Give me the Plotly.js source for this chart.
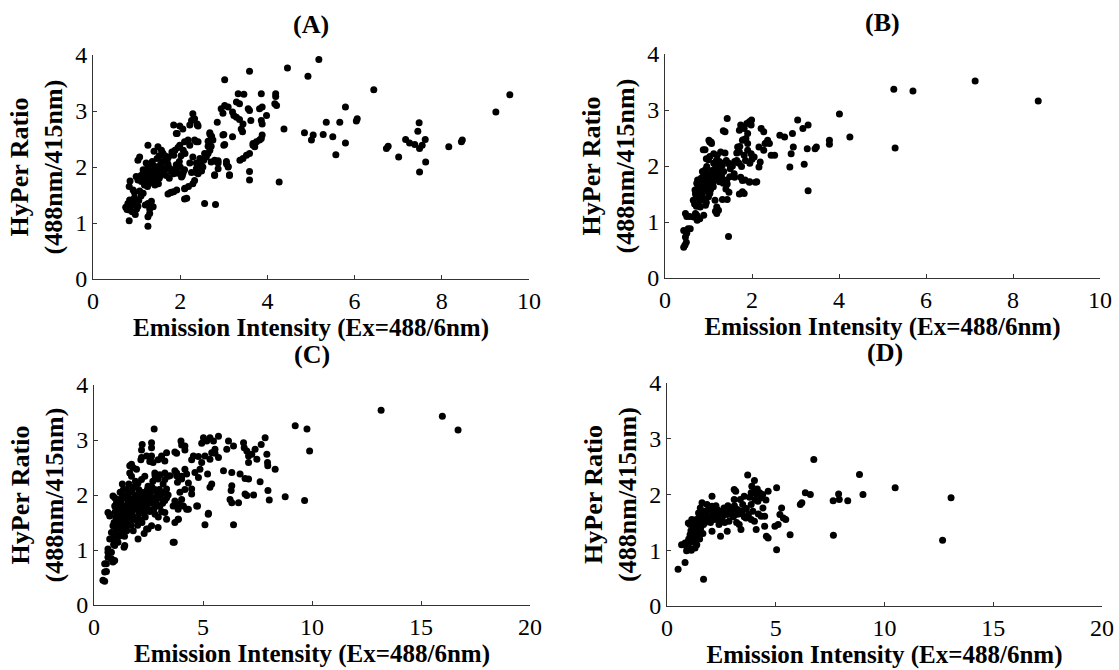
<!DOCTYPE html>
<html>
<head>
<meta charset="utf-8">
<script src="https://cdn.plot.ly/plotly-3.0.1.min.js"></script>
<style>html,body{margin:0;padding:0;background:#fff;}#chart{width:1119px;height:670px;}</style>
</head>
<body>
<div id="chart"></div>
<script>
// ---- Data (x = emission intensity, y = HyPer ratio) ----
const panelTitles = ["(A)", "(B)", "(C)", "(D)"];
const xTitle = "Emission Intensity (Ex=488/6nm)";
const yTitle = "HyPer Ratio<br>(488nm/415nm)";
const xTicksAB = [0, 2, 4, 6, 8, 10];
const xTicksCD = [0, 5, 10, 15, 20];
const yTicks = [0, 1, 2, 3, 4];

const pointsA = [
[0.75,1.28],[0.78,1.24],[0.83,1.23],[0.85,1.30],[0.88,1.32],[0.80,1.35],[0.92,1.36],[0.84,1.41],[0.95,1.45],[0.83,1.04],[0.90,1.20],[0.97,1.15],[1.00,1.25],[1.03,1.30],[0.83,1.65],[0.85,1.75],[0.92,1.59],[0.95,1.55],[1.07,1.57],[1.15,1.53],[1.10,1.48],[1.05,1.40],[1.26,1.35],[1.34,1.39],[1.38,1.29],[1.30,1.25],[1.26,1.11],[1.30,1.17],[1.26,0.94],[1.20,1.32],
[1.03,1.77],[1.11,1.74],[0.99,1.83],[1.07,2.18],[1.03,2.12],[1.26,2.39],[1.22,2.07],[1.26,2.01],[1.30,1.95],[1.34,1.89],[1.15,1.89],[1.19,1.83],[1.22,1.80],[1.15,1.95],[1.20,1.90],[1.25,1.85],[1.30,1.80],[1.35,1.82],[1.40,1.85],[1.45,1.88],[1.50,1.92],[1.28,1.70],[1.33,1.74],[1.38,1.78],[1.43,1.95],[1.48,2.00],[1.52,1.80],[1.55,1.85],[1.60,1.90],[1.20,1.75],[1.18,1.68],[1.25,1.65],[1.32,2.05],[1.36,2.10],[1.40,2.02],[1.45,1.75],[1.50,1.70],[1.55,2.05],[1.60,2.10],[1.65,1.95],[1.10,1.85],[1.12,1.78],[1.38,1.92],[1.42,1.68],[1.47,2.15],[1.52,2.20],[1.58,2.00],
[1.49,2.36],[1.57,2.30],[1.40,2.28],[1.60,2.25],[1.65,2.20],[1.70,2.12],[1.72,2.05],[1.75,1.98],[1.68,1.85],[1.75,1.80],[1.80,1.92],[1.85,1.88],[1.90,1.95],
[1.81,2.27],[1.85,2.21],[1.73,2.18],[1.91,2.04],[1.84,1.95],[1.95,1.89],[2.00,2.00],[2.05,1.85],[2.10,1.95],[1.98,2.10],[2.02,2.20],[1.88,2.30],[1.95,2.35],
[1.85,1.56],[1.92,1.59],[1.80,1.55],[1.72,1.52],[1.77,1.54],[2.15,1.44],[2.11,1.62],[2.19,1.65],[2.03,1.82],[2.29,1.70],[2.33,1.76],[2.41,1.88],[2.45,1.94],[2.37,1.97],[2.48,2.03],[2.52,2.00],[2.54,2.12],
[1.85,2.75],[1.93,2.60],[2.22,2.75],[2.39,2.75],[2.41,2.45],[2.22,2.39],[1.99,2.39],[2.07,2.30],[2.11,2.24],[2.29,2.18],[2.45,2.15],[2.37,2.07],[2.26,1.90],[2.37,1.90],[2.49,1.93],[2.22,2.07],[2.07,1.90],
[2.29,2.95],[2.33,2.86],[2.39,2.77],[2.41,2.73],[2.26,2.83],[2.06,2.68],[1.99,2.73],[1.91,2.60],[2.18,2.48],[2.10,2.45],[2.33,2.48],[2.37,2.45],[2.10,1.43],[2.10,1.61],
[2.68,2.59],[2.72,2.55],[2.64,2.46],[2.64,2.37],[2.56,2.24],[2.60,2.18],[2.68,2.61],[2.71,2.54],[2.75,2.48],[2.71,2.37],[2.68,2.30],[2.64,2.24],[2.58,2.18],[2.56,1.35],[2.81,1.33],
[2.83,2.10],[2.87,2.07],[3.06,2.10],[3.10,2.01],[2.79,1.86],[3.13,1.86],[2.71,2.09],[2.79,2.12],[2.87,2.11],[2.87,1.97],[2.79,1.85],[3.06,2.06],[3.10,2.00],[3.13,1.85],
[3.00,2.58],[3.00,2.39],[2.98,2.57],[3.20,2.54],[3.02,2.40],[2.85,2.80],[2.98,2.96],[3.02,3.10],[3.10,3.07],[2.94,3.04],[3.02,3.56],
[3.33,3.31],[3.46,3.30],[3.29,3.16],[3.36,3.13],[3.56,3.04],[3.59,3.01],[3.20,2.98],[3.23,2.92],[3.29,2.89],[3.36,2.85],[3.44,2.77],[3.40,2.68],[3.43,2.63],[3.62,2.83],[3.59,3.71],
[3.37,2.12],[3.44,2.15],[3.52,2.21],[3.59,2.24],[3.59,1.92],[3.59,1.77],[3.67,2.39],[3.75,2.45],[3.86,2.51],[3.88,2.57],[3.82,2.48],[3.67,2.42],[3.71,2.36],[3.86,3.31],[3.88,3.07],[3.82,3.04],[3.98,2.92],[3.86,2.83],[3.88,2.77],
[4.19,3.31],[4.19,3.26],[4.21,3.10],[4.17,3.13],[4.27,1.73],[4.38,2.68],[4.46,3.77],[4.85,2.61],[4.93,3.62],[5.01,2.48],[5.05,2.57],[5.18,3.92],[5.28,2.58],[5.35,2.80],[5.50,2.54],[5.57,2.22],[5.66,2.80],[5.79,3.07],[5.79,2.43],[6.04,2.82],[6.06,2.86],[6.44,3.38],[6.73,2.33],[6.77,2.37],[7.01,2.18],[7.17,2.49],[7.26,2.43],[7.38,2.40],[7.45,2.64],[7.48,2.79],[7.49,2.33],[7.55,2.39],[7.62,2.49],[7.63,2.09],[7.49,1.91],[8.16,2.36],[8.45,2.45],[8.47,2.48],[9.24,2.98],[9.56,3.29]
];

const pointsB = [
[0.43,0.55],[0.46,0.59],[0.49,0.64],[0.47,0.73],[0.50,0.80],[0.53,0.88],[0.43,0.85],[0.58,0.88],[0.47,1.15],[0.50,1.10],[0.57,1.10],[0.66,1.09],[0.74,1.03],[0.70,1.15],[0.73,1.12],[0.80,1.06],[0.89,1.12],[0.93,1.30],[0.81,1.27],
[0.65,1.39],[0.73,1.45],[0.69,1.57],[0.73,1.69],[0.80,1.75],[0.88,1.81],[0.92,1.93],[0.96,1.99],[1.00,2.11],[1.03,2.17],[0.92,2.29],[1.03,2.43],[1.07,2.40],[0.96,1.57],[1.03,1.51],[1.11,1.63],[1.15,1.39],[1.23,1.21],[1.19,1.27],[1.16,1.19],[1.19,1.15],
[0.70,1.50],[0.75,1.60],[0.78,1.55],[0.82,1.62],[0.85,1.70],[0.88,1.65],[0.90,1.55],[0.92,1.72],[0.95,1.78],[0.98,1.68],[1.00,1.75],[1.02,1.85],[1.05,1.80],[1.08,1.92],[1.10,1.70],[1.12,1.85],[1.15,1.95],[1.18,1.78],[1.20,1.88],[1.22,2.00],[1.25,1.72],[1.28,1.92],[1.30,1.82],[1.32,2.02],[1.35,1.90],[0.78,1.45],[0.85,1.48],[0.90,1.85],[0.95,1.62],[1.00,1.45],[1.05,1.58],[0.83,1.78],[0.75,1.75],[0.86,1.90],[0.97,1.88],[1.08,1.65],[1.12,2.05],[1.18,2.10],[1.25,2.08],[0.68,1.32],[0.72,1.28],[0.80,1.38],[0.88,1.40],[0.95,1.35],
[1.34,1.69],[1.42,1.75],[1.49,1.81],[1.30,2.05],[1.38,2.23],[1.46,2.05],[1.38,2.61],[1.43,2.85],[1.46,0.74],[1.36,1.74],[1.43,1.68],[1.40,1.59],[1.47,1.53],[1.32,1.40],[1.43,1.40],[1.41,2.10],[1.47,2.04],[1.01,2.46],[1.06,2.43],[0.88,2.29],[0.95,2.13],[1.12,2.22],[1.20,2.19],[1.28,2.25],[1.34,2.63],
[1.50,1.95],[1.55,2.00],[1.60,2.08],[1.59,1.86],[1.60,1.80],[1.65,2.23],[1.72,2.35],[1.80,2.47],[1.76,2.70],[1.88,2.76],[1.99,2.82],[1.76,1.99],[1.84,1.75],[1.95,1.72],[2.11,1.72],[1.78,1.54],[1.82,1.51],[1.71,1.50],[1.78,1.74],[1.74,1.80],
[1.74,2.73],[1.71,2.64],[1.82,2.67],[1.90,2.58],[1.78,2.46],[1.86,2.49],[1.90,2.40],[1.67,2.34],[1.71,2.25],[1.82,2.19],[1.90,2.28],[1.98,2.22],[2.05,2.16],[1.94,2.79],[1.98,2.73],[1.65,2.10],[1.70,2.05],[1.85,2.10],[1.95,2.05],[2.00,2.12],
[2.21,2.67],[2.27,2.61],[2.36,2.46],[2.40,2.40],[2.16,2.34],[2.27,2.28],[2.16,1.98],[2.19,2.07],[2.08,1.71],[1.94,1.71],[2.30,2.40],[2.44,2.19],[2.52,2.19],[2.64,2.55],[2.75,2.52],[2.87,1.98],[2.90,2.22],[2.95,2.34],[2.93,2.58],[3.05,2.82],[3.17,2.67],[3.29,2.73],[3.27,2.31],[3.45,2.31],[3.48,2.34],[3.20,2.03],[3.29,1.56],[3.78,2.46],[3.78,2.39],[4.01,2.93],[4.25,2.52],[5.26,3.37],[5.29,2.32],[5.70,3.34],[7.13,3.52],[8.58,3.16]
];

const pointsC = [
[0.41,0.45],[0.49,0.43],[0.49,0.60],[0.57,0.61],[0.49,0.75],[0.57,0.75],[0.64,0.87],[0.80,0.84],[0.87,0.78],[0.95,0.81],[0.64,0.96],[0.64,1.02],[0.80,0.96],[0.72,1.20],[0.80,1.32],[0.87,1.44],[0.64,1.68],[0.72,1.62],[0.72,1.65],[0.95,1.80],[1.03,1.86],[1.10,1.92],[0.87,1.98],[0.95,1.95],[1.26,1.74],[1.41,1.80],[1.56,1.86],[1.72,1.92],[1.18,1.56],[1.33,1.62],[1.49,1.56],[1.64,1.50],[1.03,1.32],[1.18,1.38],[1.33,1.44],[0.95,1.08],[1.10,1.14],[1.41,1.08],[1.38,1.05],[1.53,1.44],[2.02,1.20],[2.41,1.38],[2.64,1.44],[2.94,1.41],[3.63,1.14],
[0.85,1.20],[0.90,1.10],[0.95,1.25],[1.00,1.40],[1.05,1.50],[1.10,1.60],[1.15,1.70],[1.20,1.80],[1.25,1.90],[1.30,2.00],[1.35,2.10],[1.40,1.95],[1.45,1.70],[1.50,1.65],[1.55,1.75],[1.60,1.95],[1.65,2.05],[1.70,1.80],[1.75,1.70],[1.80,1.60],[1.85,1.85],[1.90,2.00],[1.95,1.90],[2.00,1.75],[2.05,1.65],[2.10,1.85],[2.15,1.95],[2.20,2.05],[2.25,1.90],[2.30,1.70],[2.35,1.60],[2.40,2.00],[2.45,2.10],[2.50,1.95],[2.55,1.85],[2.60,2.05],[2.65,2.15],[2.70,1.95],[2.75,1.75],[2.80,1.65],[2.85,1.90],[2.90,2.00],[2.95,1.80],[3.00,2.10],[3.05,1.95],[3.10,1.70],[3.15,1.85],[3.20,2.05],[1.00,1.60],[1.10,1.75],[1.20,1.55],[1.30,1.35],[1.40,1.25],[1.50,1.35],[1.60,1.60],[1.70,1.45],[1.80,1.35],[1.90,1.55],[2.00,1.45],[2.10,1.55],[1.20,2.05],[1.30,2.20],[1.50,2.10],[1.60,2.20],[1.75,2.10],[1.90,2.25],[2.05,2.10],[2.20,1.50],[2.30,1.30],[1.15,1.25],[0.92,1.50],[0.98,1.70],[1.08,1.85],[1.25,1.45],[1.35,1.80],[1.45,1.50],[1.55,2.00],[1.65,1.65],[1.85,1.75],[2.00,1.95],[2.15,1.75],[2.35,1.85],[2.55,1.70],[2.70,2.25],[2.80,2.35],[2.95,1.60],[3.25,1.90],[3.40,2.00],
[1.87,2.16],[2.02,2.22],[2.18,2.28],[2.33,2.34],[1.64,2.40],[1.72,2.34],[2.18,2.82],[2.64,2.86],[2.21,2.92],[2.15,2.64],[2.56,2.61],[2.94,2.64],[3.10,2.67],[2.76,3.20],[2.64,2.95],[2.18,2.68],[2.41,2.71],[2.64,2.71],[2.71,2.59],[1.72,2.56],[1.64,2.53],[1.79,2.50],[1.95,2.47],
[2.79,2.40],[3.02,2.37],[3.25,2.40],[3.40,2.34],[3.25,2.28],[2.48,2.16],[2.79,2.10],[3.10,2.04],[3.33,1.95],[2.41,1.92],[2.71,1.86],[3.02,1.80],[2.02,1.98],[2.18,1.92],[2.33,1.80],[2.48,1.74],[2.18,1.68],[1.87,1.74],[2.94,2.29],[3.17,2.20],[3.33,2.11],[3.25,1.68],[3.33,1.56],[2.48,1.38],
[3.33,2.77],[3.10,2.71],[3.25,2.62],[3.48,2.35],[3.71,2.78],[3.71,2.44],[3.79,2.35],[3.79,2.76],[4.02,2.91],[4.17,2.82],[3.79,2.40],[4.02,2.34],[4.33,2.22],[4.17,2.10],[3.63,1.80],[3.86,1.74],[4.10,1.80],[3.86,1.56],[3.71,1.50],[4.71,1.80],[4.33,1.74],[3.68,1.14],
[3.99,2.98],[4.17,2.89],[4.17,2.47],[4.25,2.38],[3.83,2.23],[4.02,2.29],[4.48,2.11],[4.48,2.02],[3.94,2.05],[4.02,1.92],[4.25,1.74],[3.87,1.83],[3.71,1.89],[3.87,1.56],[4.56,2.71],[4.63,2.41],[4.79,2.32],[4.75,1.80],[4.48,2.64],[4.79,2.70],[4.94,2.94],
[5.02,3.04],[5.17,2.98],[5.32,3.04],[5.48,2.98],[5.71,3.07],[5.55,2.83],[5.40,2.77],[5.32,2.65],[5.71,2.68],[5.09,2.71],[4.94,2.59],[4.86,2.47],[5.21,2.38],[5.40,2.20],[5.32,2.14],[5.25,1.67],[5.09,1.46],[5.24,1.65],[5.55,2.76],
[5.94,2.44],[6.09,2.83],[6.17,2.98],[6.40,2.89],[6.32,2.41],[6.32,2.17],[6.29,2.08],[6.24,1.92],[6.32,1.86],[6.63,1.86],[6.40,1.46],[6.70,2.38],[6.86,2.95],[6.89,2.86],[7.01,2.80],[7.09,2.71],[6.93,2.30],[7.09,2.29],[7.32,2.00],[7.01,1.99],[6.93,2.02],[7.39,2.83],[7.47,2.65],[7.24,2.74],[7.09,2.59],[7.62,2.24],[7.67,2.92],[7.85,3.04],[7.93,2.74],[7.96,2.59],[7.97,2.53],[8.31,2.47],[8.04,1.91],[7.98,2.08],[8.77,1.97],[9.23,3.26],[9.66,1.90],[9.77,3.20],[9.89,2.80],[13.17,3.54],[15.98,3.43],[16.70,3.18]
];

const pointsD = [
[0.51,0.66],[0.83,0.78],[1.68,0.48],[0.67,1.10],[0.83,1.13],[0.90,1.07],[0.90,0.99],[0.98,1.49],[1.06,1.46],[1.06,1.28],[1.22,1.22],[1.29,1.40],[1.37,1.34],[1.45,1.28],[1.29,1.04],[1.37,1.10],[1.45,1.67],[1.53,1.61],[1.61,1.55],[1.68,1.46],[1.61,1.85],[1.22,1.52],[1.14,1.55],[1.53,1.76],[1.76,1.70],[1.84,1.82],[2.07,1.97],[2.07,1.79],[2.31,1.73],[2.15,1.64],[2.07,1.34],[2.46,1.25],[2.46,1.52],[2.39,1.46],[2.62,1.76],[2.77,1.64],[2.85,1.52],[2.77,1.34],[3.01,1.70],[3.16,1.64],[3.24,1.73],[3.09,2.09],[3.16,2.06],[3.09,1.91],[3.32,1.46],[3.40,1.37],[3.37,1.91],[3.48,1.82],[3.55,1.97],[3.71,2.35],[3.63,1.58],[3.87,1.55],[4.02,1.52],[4.10,1.37],[4.02,2.25],[3.87,2.03],[4.02,2.06],[4.10,2.00],[4.26,2.03],[3.87,1.82],[4.18,1.88],[4.33,1.94],[4.41,1.76],[4.33,1.61],[4.49,1.61],[4.49,1.43],[4.57,1.25],[4.65,1.22],[4.65,2.06],[5.04,2.12],[5.04,1.01],[4.96,1.43],[5.11,1.46],[5.27,1.76],[5.19,1.64],[5.35,1.58],[5.46,1.55],[5.66,1.28],[6.13,1.82],[6.20,1.85],[6.36,2.03],[6.59,2.00],[6.75,2.63],[7.64,1.89],[7.89,2.01],[7.92,1.91],[8.31,1.89],[7.65,1.27],[8.85,2.36],[9.01,2.00],[10.49,2.12],[12.67,1.18],[13.06,1.94],
[1.00,1.20],[1.10,1.35],[1.15,1.15],[1.20,1.30],[1.25,1.45],[1.30,1.25],[1.35,1.55],[1.40,1.45],[1.45,1.35],[1.50,1.50],[1.55,1.40],[1.60,1.65],[1.65,1.30],[1.70,1.60],[1.75,1.50],[1.80,1.65],[1.85,1.55],[1.90,1.72],[1.95,1.60],[2.00,1.50],[2.10,1.70],[2.20,1.55],[2.25,1.80],[2.35,1.65],[2.50,1.70],[2.55,1.60],[2.65,1.50],[2.70,1.70],[2.90,1.65],[2.95,1.75],[3.05,1.60],[3.20,1.50],[3.30,1.65],[3.45,1.70],[3.55,1.60],[3.65,1.75],[3.75,1.65],[3.80,1.95],[3.95,1.70],[4.05,1.90],[4.20,1.65],[4.40,2.00],[4.55,1.90],[1.20,1.45],[1.35,1.20],[1.50,1.20],[2.40,1.60],[2.80,1.80],[3.10,1.80],[3.90,2.15],[4.15,2.10],[1.00,1.05],[0.95,1.15],[1.12,1.00]
];

// ---- Plot ----
const W = 1119, H = 670;
const panels = [
  {pts: pointsA, xs: [93, 529], ys: [55, 279], xmax: 10, ticks: xTicksAB},
  {pts: pointsB, xs: [665, 1100], ys: [54, 278], xmax: 10, ticks: xTicksAB},
  {pts: pointsC, xs: [94, 530], ys: [385, 605], xmax: 20, ticks: xTicksCD},
  {pts: pointsD, xs: [667, 1102], ys: [383, 606], xmax: 20, ticks: xTicksCD}
];
const serif = "'Liberation Serif', 'Times New Roman', 'DejaVu Serif', serif";
const traces = [];
const layout = {
  width: W, height: H,
  margin: {l: 0, r: 0, t: 0, b: 0},
  paper_bgcolor: "#fff", plot_bgcolor: "#fff",
  showlegend: false,
  font: {family: serif, color: "#000", size: 24},
  annotations: []
};
panels.forEach((p, i) => {
  const n = i === 0 ? "" : String(i + 1);
  traces.push({
    type: "scatter", mode: "markers",
    x: p.pts.map(d => d[0]), y: p.pts.map(d => d[1]),
    xaxis: "x" + n, yaxis: "y" + n,
    marker: {color: "#000", size: 7, line: {width: 0}},
    hoverinfo: "x+y"
  });
  const common = {
    showline: true, linecolor: "#333", linewidth: 1,
    ticks: "inside", ticklen: 4, tickcolor: "#333", tickwidth: 1,
    showgrid: false, zeroline: false, automargin: false,
    tickfont: {family: serif, size: 24, color: "#000"}
  };
  layout["xaxis" + n] = Object.assign({}, common, {
    domain: [p.xs[0] / W, p.xs[1] / W],
    anchor: "y" + n,
    range: [0, p.xmax], tickvals: p.ticks, ticktext: p.ticks.map(String),
    title: {text: xTitle, font: {family: serif, size: 25, color: "#000", weight: "bold"}, standoff: 0}
  });
  layout["yaxis" + n] = Object.assign({}, common, {
    domain: [1 - p.ys[1] / H, 1 - p.ys[0] / H],
    anchor: "x" + n,
    range: [0, 4], tickvals: yTicks, ticktext: yTicks.map(String),
    title: {text: yTitle, font: {family: serif, size: 26, color: "#000", weight: "bold"}, standoff: 5}
  });
  layout.annotations.push({
    text: "<b>" + panelTitles[i] + "</b>",
    xref: "paper", yref: "paper",
    x: (p.xs[0] + p.xs[1]) / 2 / W,
    y: 1 - (p.ys[0] - 31) / H,
    xanchor: "center", yanchor: "middle", showarrow: false,
    font: {family: serif, size: 26, color: "#000"}
  });
});
Plotly.newPlot("chart", traces, layout, {displayModeBar: false, staticPlot: true});
</script>
</body>
</html>
